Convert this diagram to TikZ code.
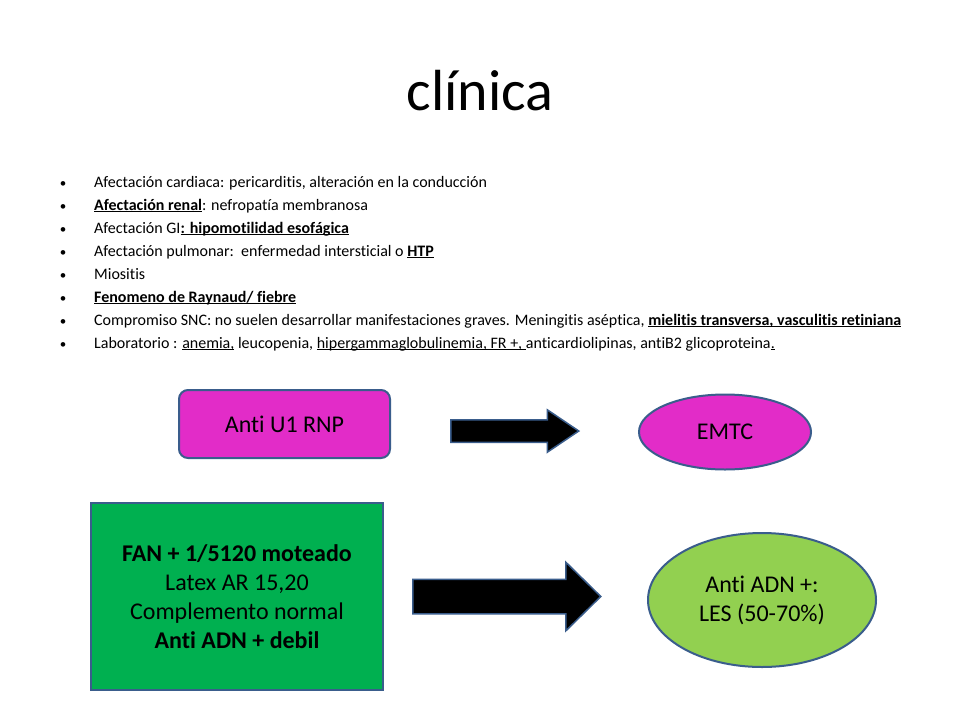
\documentclass[tikz,border=0pt]{standalone}
\usepackage{fontspec}
\setmainfont{Carlito}[Ligatures=NoCommon]
\usetikzlibrary{shapes.geometric,shapes.arrows}
\newcommand\ulx[1]{\setbox0\hbox{#1}\rlap{\rule[-2.4pt]{\wd0}{1pt}}\box0\relax}
\definecolor{mag}{HTML}{E22CC8}
\definecolor{edge}{HTML}{3A5D8C}
\definecolor{grn}{HTML}{00B050}
\definecolor{lgrn}{HTML}{92D050}
\tikzset{
  bul/.style={anchor=base west, inner sep=0pt, font=\fontsize{16}{18}\selectfont},
  dot/.style={anchor=base, inner sep=0pt, font=\fontsize{13}{14}\selectfont},
  shp/.style={draw=edge, line width=2pt},
  bigtxt/.style={font=\fontsize{24}{29}\selectfont, align=center},
  arr/.style={draw=edge, line width=1.5pt, fill=black, single arrow, inner sep=0pt, anchor=west}
}
\begin{document}
\begin{tikzpicture}[x=1pt,y=-1pt]
\useasboundingbox (0,0) rectangle (960,720);
\fill[white] (0,0) rectangle (960,720);
\node[anchor=base, inner sep=0pt, font=\fontsize{58}{60}\selectfont] (title) at (480,110) {clínica};
% bullets
\foreach \i in {0,...,7} {\node[dot] (d\i) at (63,187+23*\i) {•};}
\node[bul] (b0) at (94,187) {Afectación cardiaca: pericarditis, alteración en la conducción};
\node[bul] (b1) at (94,210) {\ulx{\textbf{Afectación renal}}: nefropatía membranosa};
\node[bul] (b2) at (94,233) {Afectación GI\ulx{\textbf{: hipomotilidad esofágica}}};
\node[bul] (b3) at (94,256) {Afectación pulmonar:\ \ enfermedad intersticial o \ulx{\textbf{HTP}}};
\node[bul] (b4) at (94,279) {Miositis};
\node[bul] (b5) at (94,302) {\ulx{\textbf{Fenomeno de Raynaud/ fiebre}}};
\node[bul] (b6) at (94,325) {Compromiso SNC: no suelen desarrollar manifestaciones graves. Meningitis aséptica, \ulx{\textbf{mielitis transversa, vasculitis retiniana}}};
\node[bul] (b7) at (94,348) {Laboratorio : \ulx{anemia,} leucopenia, \ulx{hipergammaglobulinemia, FR +, }anticardiolipinas, antiB2 glicoproteina\ulx{.}};
% upper row
\node[shp, fill=mag, rounded corners=9pt, minimum width=211pt, minimum height=68pt, bigtxt] (rnp) at (284.5,424) {Anti U1 RNP};
\node[shp, fill=mag, ellipse, minimum width=172pt, minimum height=75pt, bigtxt] (emtc) at (725,432) {EMTC};
\node[arr, minimum height=128pt, single arrow head extend=10pt, single arrow tip angle=68] (a1) at (450,431) {\rule{0pt}{21pt}};
% lower row
\node[shp, fill=grn, minimum width=292pt, minimum height=187pt, bigtxt] (fan) at (237,596.5)
  {\textbf{FAN + 1/5120 moteado}\\Latex AR 15,20\\Complemento normal\\\textbf{Anti ADN + debil}};
\node[shp, fill=lgrn, ellipse, minimum width=228pt, minimum height=134pt, bigtxt] (les) at (762,600) {Anti ADN +:\\LES (50-70\%)};
\node[arr, minimum height=188pt, single arrow head extend=17pt, single arrow tip angle=89] (a2) at (412,596.5) {\rule{0pt}{33pt}};
\end{tikzpicture}
\end{document}
